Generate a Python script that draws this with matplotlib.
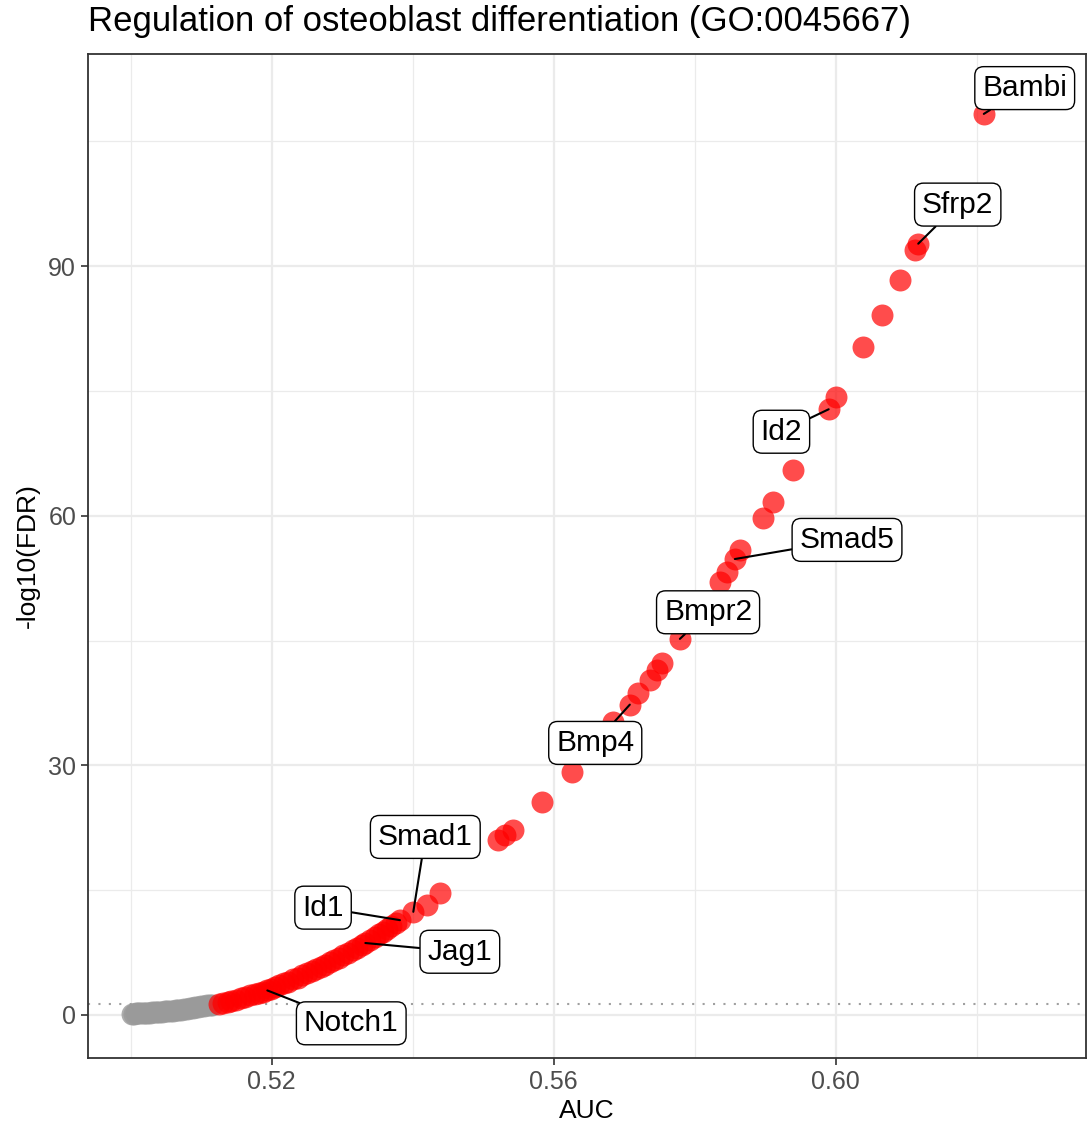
import numpy as np
import matplotlib
matplotlib.use("Agg")
import matplotlib.pyplot as plt
from matplotlib.ticker import FixedLocator

plt.rcParams['font.family'] = ['Liberation Sans', 'DejaVu Sans']

# genes below the FDR cutoff (not significant)
auc_ns = [0.5002, 0.5005, 0.5008, 0.5011, 0.5014, 0.5017, 0.5020, 0.5024, 0.5027, 0.5031,
          0.5034, 0.5038, 0.5041, 0.5045, 0.5049, 0.5052, 0.5056, 0.5060, 0.5064, 0.5068,
          0.5072, 0.5076, 0.5080, 0.5084, 0.5088, 0.5092, 0.5096, 0.5100, 0.5104, 0.5108,
          0.5112, 0.5116]
fdr_ns = [0.15, 0.16, 0.18, 0.19, 0.21, 0.23, 0.25, 0.27, 0.29, 0.31,
          0.33, 0.36, 0.38, 0.41, 0.44, 0.47, 0.50, 0.53, 0.57, 0.61,
          0.65, 0.69, 0.74, 0.79, 0.85, 0.90, 0.96, 1.02, 1.08, 1.14,
          1.20, 1.26]

# significant genes
auc_sig = [0.5125, 0.5131, 0.5138, 0.5143, 0.5150, 0.5157, 0.5163, 0.5170, 0.5176, 0.5182,
           0.5188, 0.5194, 0.5199, 0.5205, 0.5211, 0.5218, 0.5224, 0.5231, 0.5237, 0.5243,
           0.5250, 0.5257, 0.5263, 0.5270, 0.5276, 0.5283, 0.5289, 0.5296, 0.5302, 0.5309,
           0.5315, 0.5321, 0.5328, 0.5333, 0.5340, 0.5346, 0.5352, 0.5358, 0.5364, 0.5370,
           0.5376, 0.5382, 0.5401, 0.5421, 0.5439, 0.5521, 0.5531, 0.5542, 0.5583, 0.5626,
           0.5684, 0.5708, 0.5720, 0.5737, 0.5747, 0.5754, 0.5779, 0.5836, 0.5846, 0.5857,
           0.5864, 0.5897, 0.5911, 0.5939, 0.5990, 0.6000, 0.6039, 0.6065, 0.6091, 0.6112,
           0.6117, 0.6210]
fdr_sig = [1.35, 1.45, 1.60, 1.70, 1.85, 2.00, 2.15, 2.35, 2.50, 2.65,
           2.80, 2.95, 3.15, 3.35, 3.55, 3.80, 4.00, 4.30, 4.50, 4.75,
           5.00, 5.30, 5.50, 5.80, 6.05, 6.35, 6.60, 6.90, 7.20, 7.50,
           7.80, 8.05, 8.40, 8.65, 9.00, 9.35, 9.70, 10.00, 10.35, 10.70,
           11.00, 11.40, 12.40, 13.20, 14.70, 21.00, 21.60, 22.20, 25.60, 29.20,
           35.20, 37.30, 38.70, 40.30, 41.50, 42.30, 45.20, 52.00, 53.20, 54.80,
           55.90, 59.70, 61.70, 65.50, 72.80, 74.30, 80.30, 84.10, 88.30, 91.90,
           92.70, 108.30]

label_genes = ["Bambi", "Sfrp2", "Id2", "Smad5", "Bmpr2", "Bmp4", "Smad1", "Id1", "Jag1", "Notch1"]
label_auc = [0.6210, 0.6117, 0.5990, 0.5857, 0.5779, 0.5708, 0.5401, 0.5382, 0.5333, 0.5194]
label_fdr = [108.30, 92.70, 72.80, 54.80, 45.20, 37.30, 12.40, 11.40, 8.65, 2.95]

fdr_cut = -np.log10(0.05)


def main():
    fig = plt.figure(figsize=(10.92, 11.32), dpi=100)
    ax = fig.add_axes([88 / 1092, 1 - 1058 / 1132, 998 / 1092, 1004 / 1132])

    ax.set_xlim(0.49397, 0.63549)
    ax.set_ylim(-5.17, 115.5)

    # theme_bw-like grid
    ax.xaxis.set_major_locator(FixedLocator([0.52, 0.56, 0.60]))
    ax.xaxis.set_minor_locator(FixedLocator([0.50, 0.54, 0.58, 0.62]))
    ax.yaxis.set_major_locator(FixedLocator([0, 30, 60, 90]))
    ax.yaxis.set_minor_locator(FixedLocator([15, 45, 75, 105]))
    ax.set_xticklabels(["0.52", "0.56", "0.60"])
    ax.grid(which='major', color='#ebebeb', lw=1.6)
    ax.grid(which='minor', color='#ebebeb', lw=0.9)
    ax.set_axisbelow(True)
    ax.tick_params(which='major', length=5, width=1.2, color='#333333',
                   labelsize=18, labelcolor='#4d4d4d')
    ax.tick_params(which='minor', length=0)
    for s in ax.spines.values():
        s.set_color('#333333')
        s.set_linewidth(1.3)

    ax.axhline(fdr_cut, color='#a0a0a0', ls=(0, (1, 4)), lw=1.5, zorder=1)

    ax.scatter(auc_ns, fdr_ns, s=250, color='#9a9a9a', alpha=0.8, lw=0, zorder=2)
    ax.scatter(auc_sig, fdr_sig, s=250, color='#ff0000', alpha=0.7, lw=0, zorder=3)

    # label box centres
    box_pos = [(0.6268, 111.4), (0.6173, 97.4), (0.5923, 70.1), (0.6016, 57.1),
               (0.5819, 48.4), (0.5659, 32.7), (0.5418, 21.4), (0.5273, 12.9),
               (0.5467, 7.6), (0.5313, -1.0)]
    for g, x, y, (bx, by) in zip(label_genes, label_auc, label_fdr, box_pos):
        ax.annotate(g, xy=(x, y), xytext=(bx, by), ha='center', va='center',
                    fontsize=21.5, color='black', zorder=5,
                    bbox=dict(boxstyle='round,pad=0.25,rounding_size=0.3',
                              fc='white', ec='black', lw=1.0),
                    arrowprops=dict(arrowstyle='-', color='black', lw=1.5,
                                    shrinkA=0, shrinkB=0))

    ax.set_xlabel("AUC", fontsize=19, labelpad=4)
    ax.set_ylabel("-log10(FDR)", fontsize=19, labelpad=6)
    fig.text(88 / 1092, 1 - 21 / 1132, "Regulation of osteoblast differentiation (GO:0045667)",
             fontsize=25, ha='left', va='center')

    fig.savefig("out.png", dpi=100)


if __name__ == '__main__':
    main()
